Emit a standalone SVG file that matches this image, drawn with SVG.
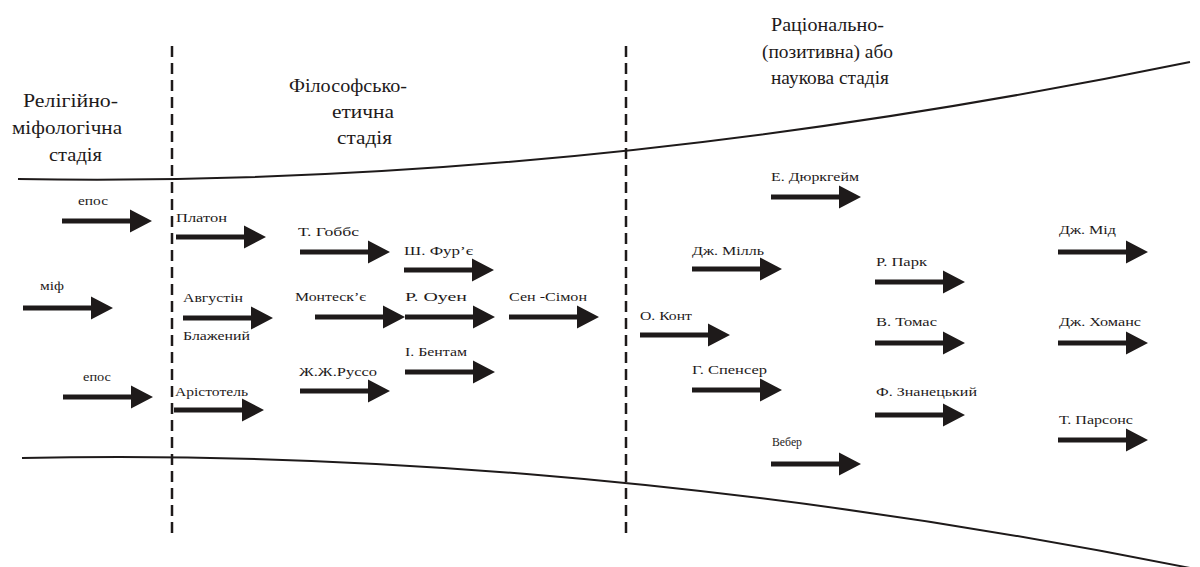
<svg xmlns="http://www.w3.org/2000/svg" xmlns:xlink="http://www.w3.org/1999/xlink" width="1200" height="567" viewBox="0 0 1200 567">
<style>
.lbl{font-family:'Liberation Serif','Times New Roman',serif;font-size:13px;fill:#1e1a1a}
.hd{font-family:'Liberation Serif','Times New Roman',serif;font-size:19px;fill:#1e1a1a}
.bound{fill:none;stroke:#1e1a1a;stroke-width:2}
.div{fill:none;stroke:#1e1a1a;stroke-width:2.5;stroke-dasharray:11 6}
.arr{fill:#1e1a1a}
</style>
<defs>
<path id="arr" class="arr" d="M0,-2.5 H68 V-11.5 L90,0 L68,11.5 V2.5 H0 Z"/>
</defs>
<rect width="1200" height="567" fill="#ffffff"/>
<g id="boundaries">
<path class="bound" d="M18,179 C420,186 820,138 1190,62"/>
<path class="bound" d="M22,458 C300,452 700,470 1190,568"/>
<line class="div" x1="172" y1="46" x2="172" y2="535"/>
<line class="div" x1="626" y1="46" x2="626" y2="535"/>
</g>
<g id="headings">
<g id="stage-religious">
<text class="hd" x="23" y="107" textLength="95" lengthAdjust="spacingAndGlyphs">Релігійно-</text>
<text class="hd" x="12" y="134" textLength="110" lengthAdjust="spacingAndGlyphs">міфологічна</text>
<text class="hd" x="49" y="161" textLength="53" lengthAdjust="spacingAndGlyphs">стадія</text>
</g>
<g id="stage-philosophical">
<text class="hd" x="289" y="92" textLength="118" lengthAdjust="spacingAndGlyphs">Філософсько-</text>
<text class="hd" x="332" y="118" textLength="62" lengthAdjust="spacingAndGlyphs">етична</text>
<text class="hd" x="337" y="144" textLength="55" lengthAdjust="spacingAndGlyphs">стадія</text>
</g>
<g id="stage-scientific">
<text class="hd" x="771" y="31" textLength="113" lengthAdjust="spacingAndGlyphs">Раціонально-</text>
<text class="hd" x="762" y="58" textLength="131" lengthAdjust="spacingAndGlyphs">(позитивна) або</text>
<text class="hd" x="771" y="84" textLength="118" lengthAdjust="spacingAndGlyphs">наукова стадія</text>
</g>
</g>
<g id="connectors">
<use xlink:href="#arr" x="62" y="221"/>
<use xlink:href="#arr" x="176" y="237"/>
<use xlink:href="#arr" x="23" y="308"/>
<use xlink:href="#arr" x="183" y="318"/>
<use xlink:href="#arr" x="63" y="397"/>
<use xlink:href="#arr" x="174" y="410"/>
<use xlink:href="#arr" x="300" y="252"/>
<use xlink:href="#arr" x="404" y="270"/>
<use xlink:href="#arr" x="315" y="317"/>
<use xlink:href="#arr" x="405" y="317"/>
<use xlink:href="#arr" x="509" y="317"/>
<use xlink:href="#arr" x="405" y="372"/>
<use xlink:href="#arr" x="300" y="391"/>
<use xlink:href="#arr" x="771" y="197"/>
<use xlink:href="#arr" x="692" y="269"/>
<use xlink:href="#arr" x="640" y="335"/>
<use xlink:href="#arr" x="692" y="390"/>
<use xlink:href="#arr" x="771" y="464"/>
<use xlink:href="#arr" x="875" y="282"/>
<use xlink:href="#arr" x="875" y="343"/>
<use xlink:href="#arr" x="875" y="415"/>
<use xlink:href="#arr" x="1058" y="252"/>
<use xlink:href="#arr" x="1058" y="343"/>
<use xlink:href="#arr" x="1058" y="440"/>
</g>
<g id="n-epos1"><text class="lbl" x="78" y="205" textLength="30" lengthAdjust="spacingAndGlyphs">епос</text></g>
<g id="n-platon"><text class="lbl" x="176" y="222" textLength="51" lengthAdjust="spacingAndGlyphs">Платон</text></g>
<g id="n-mif"><text class="lbl" x="40" y="290" textLength="24" lengthAdjust="spacingAndGlyphs">міф</text></g>
<g id="n-avgustin"><text class="lbl" x="183" y="302" textLength="60" lengthAdjust="spacingAndGlyphs">Августін</text><text class="lbl" x="183" y="340" textLength="67" lengthAdjust="spacingAndGlyphs">Блажений</text></g>
<g id="n-epos2"><text class="lbl" x="83" y="381" textLength="28" lengthAdjust="spacingAndGlyphs">епос</text></g>
<g id="n-aristotel"><text class="lbl" x="175" y="396" textLength="73" lengthAdjust="spacingAndGlyphs">Арістотель</text></g>
<g id="n-gobbs"><text class="lbl" x="298" y="236" textLength="61" lengthAdjust="spacingAndGlyphs">Т. Гоббс</text></g>
<g id="n-furie"><text class="lbl" x="404" y="255" textLength="69" lengthAdjust="spacingAndGlyphs">Ш. Фур’є</text></g>
<g id="n-montesk"><text class="lbl" x="295" y="301" textLength="71" lengthAdjust="spacingAndGlyphs">Монтеск’є</text></g>
<g id="n-ouen"><text class="lbl" x="405" y="301" textLength="62" lengthAdjust="spacingAndGlyphs">Р. Оуен</text></g>
<g id="n-sensimon"><text class="lbl" x="509" y="301" textLength="78" lengthAdjust="spacingAndGlyphs">Сен -Сімон</text></g>
<g id="n-bentam"><text class="lbl" x="405" y="356" textLength="62" lengthAdjust="spacingAndGlyphs">І. Бентам</text></g>
<g id="n-russo"><text class="lbl" x="299" y="376" textLength="78" lengthAdjust="spacingAndGlyphs">Ж.Ж.Руссо</text></g>
<g id="n-durkheim"><text class="lbl" x="771" y="181" textLength="88" lengthAdjust="spacingAndGlyphs">Е. Дюркгейм</text></g>
<g id="n-mill"><text class="lbl" x="692" y="255" textLength="72" lengthAdjust="spacingAndGlyphs">Дж. Мілль</text></g>
<g id="n-kont"><text class="lbl" x="640" y="320" textLength="52" lengthAdjust="spacingAndGlyphs">О. Конт</text></g>
<g id="n-spenser"><text class="lbl" x="692" y="374" textLength="75" lengthAdjust="spacingAndGlyphs">Г. Спенсер</text></g>
<g id="n-weber"><text class="lbl" x="772" y="446" textLength="30" lengthAdjust="spacingAndGlyphs">Вебер</text></g>
<g id="n-park"><text class="lbl" x="876" y="266" textLength="51" lengthAdjust="spacingAndGlyphs">Р. Парк</text></g>
<g id="n-tomas"><text class="lbl" x="876" y="326" textLength="61" lengthAdjust="spacingAndGlyphs">В. Томас</text></g>
<g id="n-znaniecki"><text class="lbl" x="876" y="396" textLength="101" lengthAdjust="spacingAndGlyphs">Ф. Знанецький</text></g>
<g id="n-mid"><text class="lbl" x="1059" y="234" textLength="57" lengthAdjust="spacingAndGlyphs">Дж. Мід</text></g>
<g id="n-homans"><text class="lbl" x="1059" y="326" textLength="82" lengthAdjust="spacingAndGlyphs">Дж. Хоманс</text></g>
<g id="n-parsons"><text class="lbl" x="1059" y="424" textLength="74" lengthAdjust="spacingAndGlyphs">Т. Парсонс</text></g>
</svg>
